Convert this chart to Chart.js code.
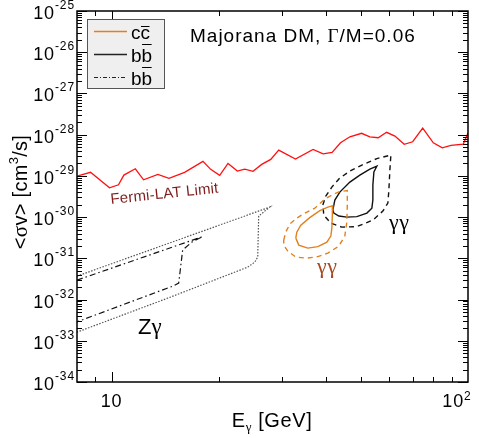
<!DOCTYPE html>
<html>
<head>
<meta charset="utf-8">
<script src="https://cdn.jsdelivr.net/npm/chart.js@4"></script>
<style>
  html, body { margin: 0; padding: 0; background: #fff; }
  canvas { display: block; }
</style>
</head>
<body>
<canvas id="sigmaChart" width="479" height="438"></canvas>
<script>
// Fermi-LAT line limit, E_gamma [GeV] vs <sigma v> [cm^3/s]
const fermiE = [8.0, 8.73, 9.87, 10.46, 10.83, 11.66, 12.30, 13.49, 14.49, 16.03,
  18.05, 18.97, 20.11, 21.22, 22.54, 23.64, 24.94, 26.38, 27.97, 29.44,
  32.81, 36.76, 39.23, 41.57, 43.89, 46.63, 50.28, 53.05, 55.98, 59.10,
  62.37, 66.22, 69.95, 74.63, 79.93, 84.70, 89.6, 97.0, 100];
const fermiSv = [9.9e-30, 1.22e-29, 5.14e-30, 6.08e-30, 1.045e-29, 1.49e-29, 8.04e-30, 1.087e-29, 8.7e-30, 1.22e-29,
  2.25e-29, 1.44e-29, 1.03e-29, 2.01e-29, 1.31e-29, 1.46e-29, 1.29e-29, 1.90e-29, 2.51e-29, 4.23e-29,
  2.56e-29, 4.40e-29, 3.44e-29, 3.72e-29, 6.36e-29, 8.89e-29, 1.08e-28, 8.89e-29, 8.41e-29, 1.14e-28,
  9.25e-29, 5.82e-29, 6.73e-29, 1.45e-28, 6.36e-29, 4.81e-29, 5.50e-29, 5.91e-29, 1.09e-28];

// b bbar, gamma gamma (solid = inner, dashed = outer)
const bbGGSolidE = [41.77, 42.31, 43.69, 46.63, 49.73, 53.05, 55.51, 54.45, 54.09, 54.09, 53.74, 52.04, 48.77, 45.72, 43.42, 42.04, 41.77];
const bbGGSolidSv = [1.48e-30, 2.59e-30, 4.05e-30, 7.08e-30, 1.045e-29, 1.46e-29, 1.73e-29, 1.24e-29, 5.98e-30, 2.59e-30, 1.65e-30, 1.25e-30, 1.03e-30, 1.0e-30, 1.06e-30, 1.25e-30, 1.48e-30];
const bbGGDashE = [39.15, 39.91, 41.50, 43.69, 46.63, 50.38, 55.51, 60.76, 60.37, 59.98, 59.59, 57.70, 54.09, 48.77, 44.26, 41.23, 39.40, 39.15];
const bbGGDashSv = [1.96e-30, 3.24e-30, 5.35e-30, 8.85e-30, 1.31e-29, 1.83e-29, 2.63e-29, 3.20e-29, 1.38e-29, 4.52e-30, 2.19e-30, 1.40e-30, 8.45e-31, 5.88e-31, 5.72e-31, 7.15e-31, 1.12e-30, 1.96e-30];

// c cbar, gamma gamma
const ccGGSolidE = [32.88, 33.09, 33.96, 35.98, 38.40, 40.44, 41.77, 41.63, 41.50, 41.23, 40.18, 37.91, 35.52, 33.52, 32.88];
const ccGGSolidSv = [3.09e-31, 4.32e-31, 6.40e-31, 9.73e-31, 1.44e-30, 1.75e-30, 1.90e-30, 1.12e-30, 5.41e-31, 3.46e-31, 2.47e-31, 1.92e-31, 1.77e-31, 2.09e-31, 3.09e-31];
const ccGGDashE = [30.41, 30.81, 31.62, 33.09, 34.84, 37.17, 39.66, 41.77, 43.69, 45.86, 45.86, 45.72, 45.12, 43.42, 40.44, 37.91, 35.29, 32.88, 31.22, 30.41, 30.41];
const ccGGDashSv = [2.77e-31, 4.32e-31, 6.76e-31, 9.46e-31, 1.25e-30, 1.65e-30, 2.74e-30, 3.52e-30, 4.16e-30, 4.40e-30, 1.96e-30, 7.57e-31, 3.46e-31, 1.98e-31, 1.34e-31, 1.10e-31, 1.01e-31, 1.07e-31, 1.50e-31, 2.09e-31, 2.77e-31];

// Z gamma (dotted = outer, dash-dot = b bbar)
const zgDotE = [8.0, 27.79, 25.87, 25.71, 25.22, 24.10, 14.37, 8.0];
const zgDotSv = [3.70e-32, 1.75e-30, 1.06e-30, 1.07e-31, 8.09e-32, 6.11e-32, 1.08e-32, 1.62e-33];
const zgDashDotE = [8.0, 18.01, 16.78, 15.83, 15.43, 14.84, 8.0];
const zgDashDotSv = [2.96e-32, 3.36e-31, 2.47e-31, 1.58e-31, 2.50e-32, 2.11e-32, 2.88e-33];

// axes
const xMin = 8, xMax = 100;
const yExpMin = -34, yExpMax = -25;
const xLabelValues = [10, 100];
const xLabelExps = ['', '2'];

const FONT = '"Liberation Sans", Arial, Helvetica, sans-serif';
const SERIF = '"Liberation Serif", "Times New Roman", serif';
const ORANGE = '#e2801f';

function pts(xs, ys) {
  return xs.map((x, i) => ({ x: x, y: ys[i] }));
}

function line(label, xs, ys, color, width, dash) {
  return {
    label: label,
    data: pts(xs, ys),
    showLine: true,
    borderColor: color,
    borderWidth: width,
    borderDash: dash || [],
    pointRadius: 0,
    fill: false,
    tension: 0
  };
}

// draw a row of text pieces: [text, font, dy]
function runs(ctx, pieces, x, y, spacing) {
  ctx.letterSpacing = (spacing || 0) + 'px';
  let cx = x;
  pieces.forEach(p => {
    ctx.font = p[1];
    ctx.fillText(p[0], cx, y + (p[2] || 0));
    cx += ctx.measureText(p[0]).width;
  });
  ctx.letterSpacing = '0px';
  return cx - x;
}

function runsWidth(ctx, pieces, spacing) {
  ctx.letterSpacing = (spacing || 0) + 'px';
  let w = 0;
  pieces.forEach(p => { ctx.font = p[1]; w += ctx.measureText(p[0]).width; });
  ctx.letterSpacing = '0px';
  return w;
}

const decorations = {
  id: 'decorations',
  afterDatasetsDraw(chart) {
    const ctx = chart.ctx;
    const a = chart.chartArea;
    const xs = chart.scales.x, ys = chart.scales.y;
    ctx.save();
    ctx.textBaseline = 'alphabetic';
    ctx.fillStyle = '#000';
    ctx.strokeStyle = '#000';

    // frame
    ctx.lineWidth = 1.5;
    ctx.strokeRect(a.left, a.top, a.right - a.left, a.bottom - a.top);

    // y ticks both sides
    ctx.lineWidth = 1;
    for (let e = yExpMin; e <= yExpMax; e++) {
      for (let m = 1; m <= 9; m++) {
        const v = m * Math.pow(10, e);
        if (e === yExpMax && m > 1) break;
        const py = Math.round(ys.getPixelForValue(v)) + 0.5;
        const len = m === 1 ? 10 : 5;
        ctx.beginPath();
        ctx.moveTo(a.left, py); ctx.lineTo(a.left + len, py);
        ctx.moveTo(a.right, py); ctx.lineTo(a.right - len, py);
        ctx.stroke();
      }
    }
    // x ticks top and bottom
    for (let e = 0; e <= 2; e++) {
      for (let m = 1; m <= 9; m++) {
        const v = m * Math.pow(10, e);
        if (v <= xMin || v >= xMax) continue;
        const px = Math.round(xs.getPixelForValue(v)) + 0.5;
        const len = m === 1 ? 10 : 5;
        ctx.beginPath();
        ctx.moveTo(px, a.bottom); ctx.lineTo(px, a.bottom - len);
        ctx.moveTo(px, a.top); ctx.lineTo(px, a.top + len);
        ctx.stroke();
      }
    }

    // y tick labels
    const big = '18px ' + FONT, small = '12px ' + FONT;
    for (let e = yExpMin; e <= yExpMax; e++) {
      const py = ys.getPixelForValue(Math.pow(10, e));
      const pieces = [['10', big, 0], [String(e), small, -10]];
      const w = runsWidth(ctx, pieces, 0.9);
      runs(ctx, pieces, a.left - 2 - w, py + 8, 0.9);
    }
    // x tick labels
    xLabelValues.forEach((v, i) => {
      const px = xs.getPixelForValue(v);
      const pieces = [['10', big, 0]];
      if (xLabelExps[i]) pieces.push([xLabelExps[i], small, -7]);
      const w = runsWidth(ctx, pieces, 0.9);
      const cx = xLabelExps[i] ? px - 11 : px;
      runs(ctx, pieces, cx - w / 2, a.bottom + 25, 0.9);
    });

    // axis titles
    const tf = '20px ' + FONT;
    const xt = [['E', tf, 0], ['\u03b3', '13px ' + SERIF, 4], [' [GeV]', tf, 0]];
    const xw = runsWidth(ctx, xt, 0.6);
    runs(ctx, xt, 272 - xw / 2, a.bottom + 45, 0.6);

    ctx.save();
    ctx.translate(27, 192);
    ctx.rotate(-Math.PI / 2);
    const yt = [['<', tf, 0], ['\u03c3', '21px ' + SERIF, 0], ['v> [cm', tf, 0], ['3', '13px ' + FONT, -9], ['/s]', tf, 0]];
    const yw = runsWidth(ctx, yt, 0.3);
    runs(ctx, yt, -yw / 2, 0, 0.3);
    ctx.restore();

    // title
    runs(ctx, [['Majorana DM, ', '19px ' + FONT, 0], ['\u0393', '19px ' + SERIF, 0], ['/M=0.06', '19px ' + FONT, 0]], 190, 42, 1.0);

    // in-plot labels
    ctx.save();
    ctx.fillStyle = '#7c1d1d';
    ctx.translate(111, 204);
    ctx.rotate(-6 * Math.PI / 180);
    runs(ctx, [['Fermi-LAT Limit', '15px ' + FONT, 0]], 0, 0, 0.2);
    ctx.restore();

    runs(ctx, [['Z', '22px ' + FONT, 0], ['\u03b3', '23px ' + SERIF, 0]], 138, 334, 0);
    runs(ctx, [['\u03b3\u03b3', '22px ' + SERIF, 0]], 389, 229, 0.5);
    ctx.fillStyle = '#a54a1e';
    runs(ctx, [['\u03b3\u03b3', '22px ' + SERIF, 0]], 317, 273, 0.5);

    // legend
    ctx.fillStyle = '#efefef';
    ctx.fillRect(87, 19, 77, 69);
    ctx.strokeStyle = '#555';
    ctx.lineWidth = 1;
    ctx.strokeRect(87.5, 19.5, 77, 69);
    const legend = [
      { sym: 'c', color: ORANGE, dash: [] },
      { sym: 'b', color: '#222', dash: [] },
      { sym: 'b', color: '#222', dash: [4, 2, 1, 2] }
    ];
    legend.forEach((item, i) => {
      const ly = 31.5 + i * 23;
      ctx.strokeStyle = item.color;
      ctx.lineWidth = item.dash.length ? 1 : 1.6;
      ctx.setLineDash(item.dash);
      ctx.beginPath();
      ctx.moveTo(94, ly); ctx.lineTo(127, ly);
      ctx.stroke();
      ctx.setLineDash([]);
      ctx.fillStyle = '#000';
      ctx.font = '19px ' + FONT;
      ctx.fillText(item.sym + item.sym, 131, ly + 7);
      const w1 = ctx.measureText(item.sym).width;
      const w2 = ctx.measureText(item.sym + item.sym).width;
      const top = item.sym === 'c' ? ly - 5 : ly - 10;
      ctx.strokeStyle = '#000';
      ctx.lineWidth = 1;
      ctx.beginPath();
      ctx.moveTo(131 + w1 + 0.5, top); ctx.lineTo(131 + w2 - 0.5, top);
      ctx.stroke();
    });

    ctx.restore();
  }
};

new Chart(document.getElementById('sigmaChart').getContext('2d'), {
  type: 'scatter',
  data: {
    datasets: [
      line('Fermi-LAT Limit', fermiE, fermiSv, '#ff1010', 1.3),
      line('Z\u03b3 outer', zgDotE, zgDotSv, '#555', 1.2, [1.5, 1.5]),
      line('Z\u03b3 b\u0304b', zgDashDotE, zgDashDotSv, '#111', 1.2, [6, 3, 1.5, 3]),
      line('c\u0304c \u03b3\u03b3 outer', ccGGDashE, ccGGDashSv, ORANGE, 1.4, [5, 4]),
      line('c\u0304c \u03b3\u03b3', ccGGSolidE, ccGGSolidSv, ORANGE, 1.4),
      line('b\u0304b \u03b3\u03b3 outer', bbGGDashE, bbGGDashSv, '#111', 1.4, [5, 4]),
      line('b\u0304b \u03b3\u03b3', bbGGSolidE, bbGGSolidSv, '#111', 1.4)
    ]
  },
  options: {
    responsive: false,
    animation: false,
    layout: { padding: { left: 77, top: 11, right: 11, bottom: 56 } },
    plugins: { legend: { display: false }, tooltip: { enabled: false } },
    scales: {
      x: { type: 'logarithmic', min: xMin, max: xMax, display: false },
      y: { type: 'logarithmic', min: Math.pow(10, yExpMin), max: Math.pow(10, yExpMax), display: false }
    }
  },
  plugins: [decorations]
});
</script>
</body>
</html>
